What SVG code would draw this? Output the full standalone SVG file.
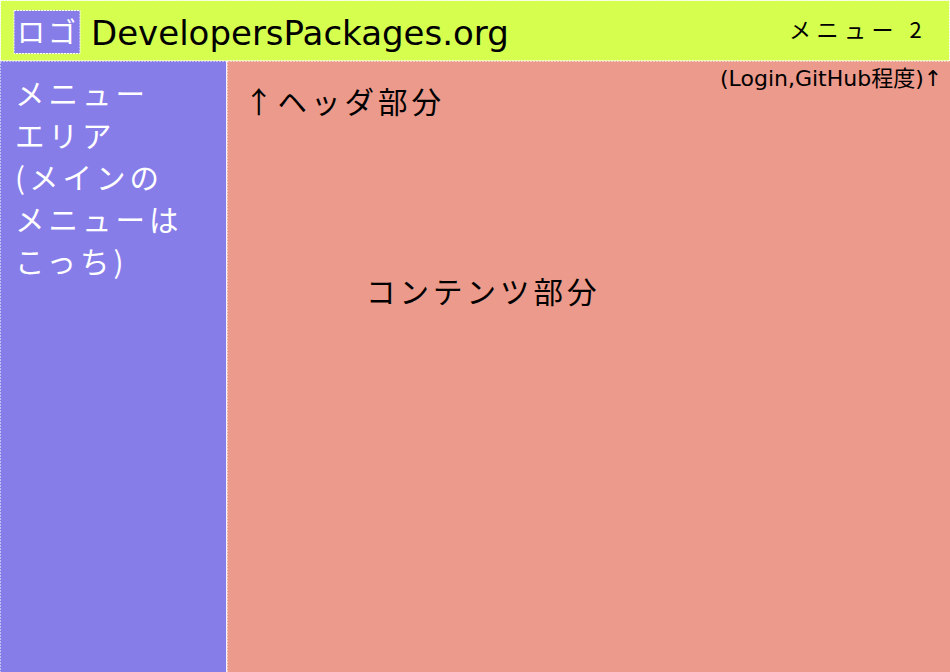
<svg xmlns="http://www.w3.org/2000/svg" width="950" height="672" viewBox="0 0 950 672">
  <style>
    .area { stroke: #ffffff; stroke-width: 1; stroke-dasharray: 2 1; }
    .jp { font-family: "Noto Sans CJK JP", "DejaVu Sans", sans-serif; }
    .lat { font-family: "DejaVu Sans", "Noto Sans CJK JP", sans-serif; }
    .big { font-size: 29.5px; letter-spacing: 4px; }
  </style>

  <!-- header bar -->
  <g id="header">
    <rect class="area" x="0.5" y="0.5" width="949" height="60.5" fill="#d5fe4e"/>
    <g id="logo">
      <rect class="area" x="14" y="10.5" width="66" height="43" fill="#877de9"/>
      <text class="jp" x="17" y="43" font-size="28" letter-spacing="3" fill="#ffffff">ロゴ</text>
    </g>
    <text class="lat" x="91" y="45" font-size="34" fill="#000000">DevelopersPackages.org</text>
    <text class="jp" x="789" y="38" font-size="22" letter-spacing="5.5" fill="#000000">メニュー 2</text>
  </g>

  <!-- left menu column -->
  <g id="menu">
    <rect class="area" x="0" y="61" width="226.5" height="612" fill="#877de9"/>
    <g class="jp big" fill="#ffffff">
      <text x="15" y="105">メニュー</text>
      <text x="15" y="147">エリア</text>
      <text x="15" y="189">(メインの</text>
      <text x="15" y="231">メニューは</text>
      <text x="15" y="273">こっち)</text>
    </g>
  </g>

  <!-- main content -->
  <g id="content">
    <rect class="area" x="227" y="61" width="724" height="612" fill="#eb9a8b"/>
    <text class="lat" x="720" y="86" font-size="22" fill="#000000">(Login,GitHub程度)↑</text>
    <text class="jp big" x="244" y="113" fill="#000000">↑ヘッダ部分</text>
    <text class="jp big" x="366" y="303" fill="#000000">コンテンツ部分</text>
  </g>
</svg>
